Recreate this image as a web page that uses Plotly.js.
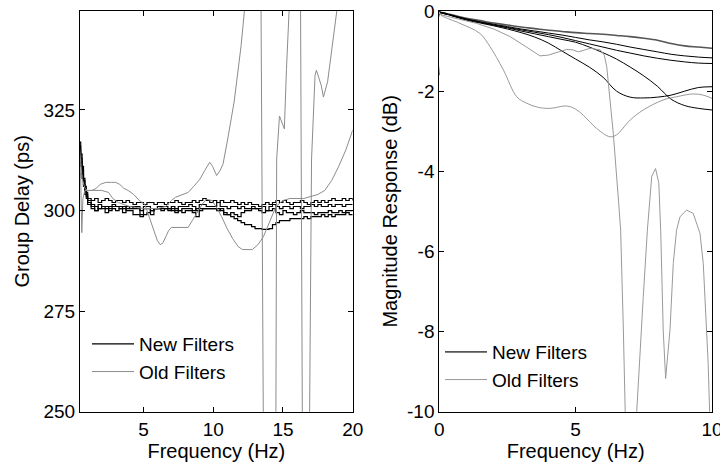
<!DOCTYPE html>
<html>
<head>
<meta charset="utf-8">
<script src="https://cdn.plot.ly/plotly-3.0.1.min.js"></script>
<style>html,body{margin:0;padding:0;background:#fff;}#chart{width:720px;height:462px;}</style>
</head>
<body>
<div id="chart"></div>
<script>
// ---------- Left panel: group delay ----------
const freqNew = [0.4,0.5,0.6,0.7,0.8,0.9,
1,1.25,1.5,1.75, 2,2.25,2.5,2.75, 3,3.25,3.5,3.75, 4,4.25,4.5,4.75, 5,5.25,5.5,5.75,
6,6.25,6.5,6.75, 7,7.25,7.5,7.75, 8,8.25,8.5,8.75, 9,9.25,9.5,9.75, 10,10.25,10.5,10.75,
11,11.25,11.5,11.75, 12,12.25,12.5,12.75, 13,13.25,13.5,13.75, 14,14.25,14.5,14.75,
15,15.25,15.5,15.75, 16,16.25,16.5,16.75, 17,17.25,17.5,17.75, 18,18.25,18.5,18.75,
19,19.25,19.5,19.75, 20];

const delayNew1 = [316,313,310,307.5,305.5,304,
303,302.5,303,302, 302.5,303,302.5,302, 302.5,302.5,302,302.5, 302,301.5,302,302,
301.5,302,302,301.5, 302,302,301.5,302, 302,302.5,302,301.5, 302,302,302.5,302,
302.5,303,302.5,302, 302.5,302,302.5,302, 302,302.5,302,301.5, 302,301.5,302,301.5,
301.5,301,301.5,302, 301.5,302,302.5,302, 302.5,302,301.5,302, 302,302.5,302,301.5,
302,302.5,302,302.5, 302,302.5,303,302.5, 302.5,303,302.5,303, 302.5];

const delayNew2 = [317,314,311,308,306,304.5,
302.5,301.5,300,301.5, 301,299.5,301,301.5, 301,301,299.5,301, 300.5,301,301,299,
301,301,299,300.5, 301,301,301,300.5, 301,300,301,301, 301,301.5,301,300,
301.5,301.5,301,301, 301,302,301,301, 300.5,301,301,300.5, 301,300.5,300.5,301,
300.5,300.5,301,300, 301,301.5,301,300.5, 301,301,300.5,301, 301,300.5,301,301,
301.5,301,301.5,301, 301,301.5,301,301.5, 301.5,301,301.5,301.5, 301.5];

const delayNew3 = [315,312,309,306.5,305,303.5,
302,301,301,300.5, 301,301,300.5,301, 301,300.5,301,300.5, 301,300.5,300.5,300,
300.5,300.5,300,300.5, 300.5,300.5,300.5,300, 300.5,300.5,300,300.5, 300.5,300.5,300,300.5,
300.5,300.5,300.5,300.5, 300.5,300.5,300,299.5, 299,298.5,298,297.5, 297,296.5,296.5,296,
295.5,295.5,295.3,295.3, 295.5,296.5,297,297.5, 297.5,297.5,298,298, 298,298,298.5,298,
298.5,298.5,298.5,299, 298.5,299,298.5,299, 299,299,299.5,299, 299];

const delayNew4 = [314,311,308,306,304,303,
301.5,300.5,300,300.5, 300.5,300.5,300,300.5, 300,300.5,300.5,300, 300,299,299,298.5,
299,299.5,300,300.5, 300.5,300,300.5,300.5, 300,299.5,300,299.5, 300,300,299.5,298.5,
300,300.5,300.5,300.5, 300.5,300,300.5,299, 299,299.5,299,298.5, 299.5,300,300,300.5,
300.5,300,299.5,300, 300,300.5,299.5,299, 300,299.5,299.5,299, 299.5,300,299.5,299.5,
299.5,299,299.5,299.5, 299.5,300,299.5,299.5, 300,299.5,300,300, 300];

const freqOldA = [0.4,0.5,0.6,0.8,1.0,1.3,1.6,1.9,2.3,2.7,3.0,3.3,3.6,3.9,4.3,4.7,5.1,5.4,5.7,6.0,6.2,6.4,6.6,6.8,7.0,8.2,8.5,8.9,9.2,9.5,9.9,10.2,10.6,11.0,11.4,11.8,12.1,12.8,13.2,13.6,14.0,14.5,15.0,15.5,16.5,17.0,17.5,18.0,18.5,19.0,19.5,20.0];
const delayOldA = [316,312,308,305.5,305,305,305.5,306.5,307,307,307,306.5,305.5,305,304,302.5,301.5,298.5,295.5,292.5,291.5,292,293.5,295,295.8,295.8,297.5,300,301.5,302.8,302.5,301,298.5,295.5,293,291,290.3,290.3,291.5,293.5,297,301,302.5,303,303,303.5,304,305,307.5,311,315,320];

const freqOldB = [0.4,0.5,0.58,0.66,0.8,1.0,1.5,2.0,2.5,2.8,3.2,3.6,4.0,5.0,6.0,6.6,7.0,7.3,8.2,8.6,9.05,9.4,9.75,9.95,10.25,10.5,10.7,11.0,11.5,12.0,12.3,12.8,13.35,13.7,14.45,14.55,14.75,14.9,15.1,15.25,15.4,15.9,16.2,16.45,16.8,17.05,17.3,17.4,17.75,17.9,18.2,18.8,19.3,20.0];
const delayOldB = [315,308,294.5,303,305,305,305,305,304.5,303,302,301.5,301,300.5,300.5,301,302.5,303.3,304.5,306,307.8,310,312,311,308.7,310,311.5,317,327,341,351,370,400,180,200,312.8,323.5,322,320.3,335,352,385,400,200,200,312.8,333.6,334.9,331,328.2,332,350,365,380];

// ---------- Right panel: magnitude response ----------
const freqMag = [0,0.05,0.5,1,1.5,2,2.5,3,3.5,4,4.5,5,5.5,6,6.5,7,7.5,8,8.5,9,9.5,10];
const magNew1 = [-0.01,-0.03,-0.1,-0.18,-0.24,-0.3,-0.35,-0.4,-0.44,-0.48,-0.51,-0.54,-0.56,-0.58,-0.61,-0.64,-0.68,-0.73,-0.81,-0.87,-0.9,-0.93];
const magNew2 = [-0.01,-0.04,-0.11,-0.2,-0.27,-0.33,-0.39,-0.45,-0.5,-0.55,-0.6,-0.66,-0.72,-0.77,-0.83,-0.9,-0.96,-1.02,-1.08,-1.12,-1.15,-1.17];
const magNew3 = [-0.01,-0.04,-0.12,-0.21,-0.28,-0.35,-0.41,-0.47,-0.53,-0.59,-0.66,-0.74,-0.82,-0.9,-0.98,-1.05,-1.12,-1.18,-1.23,-1.27,-1.3,-1.31];
const magNew4 = [-1.6,-0.05,-0.13,-0.23,-0.3,-0.37,-0.45,-0.54,-0.65,-0.8,-1.0,-1.2,-1.4,-1.65,-2.0,-2.15,-2.17,-2.15,-2.1,-2.0,-1.91,-1.89];
const magNew5 = [-0.01,-0.03,-0.12,-0.21,-0.28,-0.35,-0.42,-0.5,-0.57,-0.64,-0.71,-0.78,-0.9,-1.04,-1.2,-1.4,-1.62,-1.88,-2.2,-2.36,-2.43,-2.47];

const freqOld1 = [0,0.1,0.7,1.37,2.0,2.6,3.2,3.69,4.0,4.42,4.67,4.9,5.1,5.3,5.53,5.9,6.05,6.14,6.25,6.38,6.57,6.65,6.75,6.81,6.95,7.15,7.24,7.48,7.63,7.79,7.93,8.05,8.12,8.21,8.3,8.46,8.58,8.7,8.83,9.07,9.31,9.56,9.68,9.86,9.93,10];
const magOld1 = [-0.05,-0.1,-0.2,-0.31,-0.45,-0.64,-0.9,-1.12,-1.1,-1.02,-0.96,-0.97,-1.02,-0.98,-0.93,-0.97,-1.1,-1.39,-2.1,-3.05,-4.72,-5.47,-7.96,-10,-14,-14,-10,-7.13,-5.47,-4.13,-3.93,-4.3,-5.5,-7.96,-9.17,-7.96,-6.3,-5.47,-5.13,-4.97,-5.05,-5.55,-6.3,-8.8,-10,-12];
const freqOld2 = [0,0.1,0.76,1.49,1.86,2.35,2.84,3.2,3.6,4.06,4.67,5.0,5.28,5.77,6.26,6.5,7.0,7.48,8.21,8.7,9.31,9.68,10];
const magOld2 = [-0.05,-0.12,-0.31,-0.56,-0.89,-1.47,-2.14,-2.3,-2.4,-2.43,-2.37,-2.45,-2.6,-2.93,-3.14,-3.09,-2.72,-2.47,-2.22,-2.14,-2.07,-2.1,-2.18];

const delayTicks = [250,275,300,325];
const freqTicksL = [5,10,15,20];
const magTicks = [0,-2,-4,-6,-8,-10];
const magTickText = ['0','-2','-4','-6','-8','-10'];
const freqTicksR = [0,5,10];

const NEW = '#000000', OLD = '#8c8c8c';

function tr(x, y, name, color, show, xa, ya, lg, shape, w) {
  return {x: x, y: y, type: 'scatter', mode: 'lines', name: name,
    line: {color: color, width: w || 1, shape: shape || 'linear'},
    showlegend: show, legendgroup: name + lg, legend: lg, xaxis: xa, yaxis: ya, hoverinfo: 'skip'};
}

const data = [
  tr(freqNew, delayNew1, 'New Filters', NEW, true, 'x', 'y', 'legend', 'hv', 1.2),
  tr(freqNew, delayNew2, 'New Filters', NEW, false, 'x', 'y', 'legend', 'hv', 1.2),
  tr(freqNew, delayNew3, 'New Filters', NEW, false, 'x', 'y', 'legend', 'hv', 1.2),
  tr(freqNew, delayNew4, 'New Filters', NEW, false, 'x', 'y', 'legend', 'hv', 1.2),
  tr(freqOldA, delayOldA, 'Old Filters', OLD, true, 'x', 'y', 'legend'),
  tr(freqOldB, delayOldB, 'Old Filters', OLD, false, 'x', 'y', 'legend'),

  tr(freqMag, magNew1, 'New Filters', '#555555', true, 'x2', 'y2', 'legend2', 'spline', 1.6),
  tr(freqMag, magNew2, 'New Filters', NEW, false, 'x2', 'y2', 'legend2', 'spline'),
  tr(freqMag, magNew3, 'New Filters', NEW, false, 'x2', 'y2', 'legend2', 'spline'),
  tr(freqMag, magNew4, 'New Filters', NEW, false, 'x2', 'y2', 'legend2', 'spline'),
  tr(freqMag, magNew5, 'New Filters', NEW, false, 'x2', 'y2', 'legend2', 'spline'),
  tr(freqOld1, magOld1, 'Old Filters', '#999999', true, 'x2', 'y2', 'legend2'),
  tr(freqOld2, magOld2, 'Old Filters', '#999999', false, 'x2', 'y2', 'legend2', 'spline')
];

const axBase = {showline: true, linecolor: '#000', linewidth: 1, mirror: 'ticks', ticks: 'inside',
  ticklen: 5, tickcolor: '#000', showgrid: false, zeroline: false, tickmode: 'array',
  tickfont: {size: 19}, automargin: false};

const layout = {
  width: 720, height: 462, autosize: false,
  margin: {l: 0, r: 0, t: 0, b: 0},
  paper_bgcolor: '#fff', plot_bgcolor: '#fff',
  font: {family: 'Liberation Sans, Arial, sans-serif', size: 20, color: '#000'},
  xaxis: Object.assign({}, axBase, {domain: [80/720, 352.7/720], range: [0.45, 20], tickvals: freqTicksL,
    title: {text: 'Frequency (Hz)', standoff: 4, font: {size: 20}}, anchor: 'y'}),
  yaxis: Object.assign({}, axBase, {domain: [50.3/462, 451/462], range: [250, 349.6], tickvals: delayTicks,
    title: {text: 'Group Delay (ps)', standoff: 8, font: {size: 20}}, anchor: 'x'}),
  xaxis2: Object.assign({}, axBase, {domain: [439.3/720, 712/720], range: [0, 10], tickvals: freqTicksR,
    ticklabeloverflow: 'allow',
    title: {text: 'Frequency (Hz)', standoff: 4, font: {size: 20}}, anchor: 'y2'}),
  yaxis2: Object.assign({}, axBase, {domain: [50.3/462, 451/462], range: [-10, 0], tickvals: magTicks, ticktext: magTickText,
    title: {text: 'Magnitude Response (dB)', standoff: 4, font: {size: 20}}, anchor: 'x2'}),
  legend: {x: 87/720, y: 1 - 325/462, xanchor: 'left', yanchor: 'top', bgcolor: 'rgba(0,0,0,0)',
    font: {size: 19}, itemwidth: 42, tracegroupgap: 0},
  legend2: {x: 440/720, y: 1 - 333/462, xanchor: 'left', yanchor: 'top', bgcolor: 'rgba(0,0,0,0)',
    font: {size: 19}, itemwidth: 42, tracegroupgap: 0},
  showlegend: true
};

Plotly.newPlot('chart', data, layout, {staticPlot: true, displayModeBar: false});
</script>
</body>
</html>
